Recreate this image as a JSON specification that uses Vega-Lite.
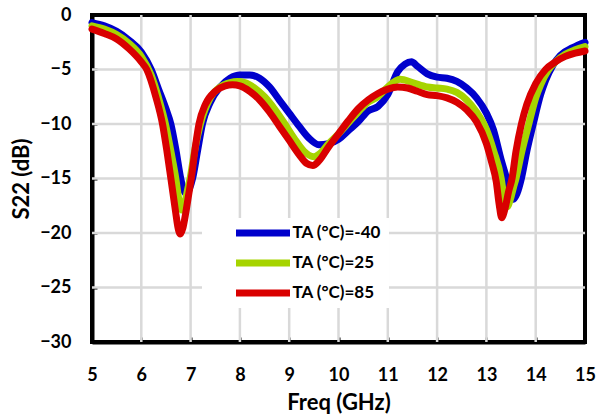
{
  "$schema": "https://vega.github.io/schema/vega-lite/v6.json",
  "width": 493,
  "height": 327,
  "autosize": {"type": "none"},
  "padding": {"left": 92, "top": 15, "right": 22, "bottom": 76},
  "background": "white",
  "config": {
    "font": "Lato",
    "view": {"stroke": "black", "strokeWidth": 4},
    "axis": {
      "grid": false,
      "domainColor": "black",
      "domainWidth": 4,
      "tickColor": "black",
      "tickWidth": 2,
      "tickSize": -5,
      "labelFlush": false,
      "labelFont": "Lato",
      "labelFontWeight": "bold",
      "labelFontSize": 18,
      "labelColor": "black",
      "titleFont": "Lato",
      "titleFontWeight": "bold",
      "titleFontSize": 22,
      "titleColor": "black"
    }
  },
  "layer": [
    {
      "data": {"values": [{"g": 6}, {"g": 7}, {"g": 8}, {"g": 9}, {"g": 10}, {"g": 11}, {"g": 12}, {"g": 13}, {"g": 14}]},
      "mark": {"type": "rule", "color": "#d9d9d9", "strokeWidth": 2.5},
      "encoding": {
        "x": {
          "field": "g",
          "type": "quantitative",
          "scale": {"domain": [5, 15], "nice": false},
          "axis": {
            "values": [5, 6, 7, 8, 9, 10, 11, 12, 13, 14, 15],
            "title": "Freq (GHz)",
            "labelPadding": 29,
            "titlePadding": 8
          }
        }
      }
    },
    {
      "data": {"values": [{"g": -25}, {"g": -20}, {"g": -15}, {"g": -10}, {"g": -5}]},
      "mark": {"type": "rule", "color": "#d9d9d9", "strokeWidth": 2.5},
      "encoding": {
        "y": {
          "field": "g",
          "type": "quantitative",
          "scale": {"domain": [-30, 0], "nice": false},
          "axis": {
            "values": [-30, -25, -20, -15, -10, -5, 0],
            "title": "S22 (dB)",
            "labelPadding": 26,
            "titlePadding": 6
          }
        }
      }
    },
    {
      "data": {
        "values": [
          {"f": 5.0, "s22": -0.7, "ta": "TA (°C)=-40"},
          {"f": 5.25, "s22": -1.0, "ta": "TA (°C)=-40"},
          {"f": 5.5, "s22": -1.5, "ta": "TA (°C)=-40"},
          {"f": 5.75, "s22": -2.3, "ta": "TA (°C)=-40"},
          {"f": 6.0, "s22": -3.4, "ta": "TA (°C)=-40"},
          {"f": 6.2, "s22": -5.0, "ta": "TA (°C)=-40"},
          {"f": 6.35, "s22": -6.8, "ta": "TA (°C)=-40"},
          {"f": 6.5, "s22": -8.6, "ta": "TA (°C)=-40"},
          {"f": 6.6, "s22": -10.0, "ta": "TA (°C)=-40"},
          {"f": 6.7, "s22": -12.3, "ta": "TA (°C)=-40"},
          {"f": 6.8, "s22": -15.0, "ta": "TA (°C)=-40"},
          {"f": 6.86, "s22": -16.1, "ta": "TA (°C)=-40"},
          {"f": 6.92, "s22": -16.4, "ta": "TA (°C)=-40"},
          {"f": 6.98, "s22": -15.9, "ta": "TA (°C)=-40"},
          {"f": 7.04, "s22": -15.0, "ta": "TA (°C)=-40"},
          {"f": 7.14, "s22": -12.5, "ta": "TA (°C)=-40"},
          {"f": 7.24, "s22": -10.0, "ta": "TA (°C)=-40"},
          {"f": 7.4, "s22": -8.0, "ta": "TA (°C)=-40"},
          {"f": 7.6, "s22": -6.6, "ta": "TA (°C)=-40"},
          {"f": 7.8, "s22": -5.8, "ta": "TA (°C)=-40"},
          {"f": 8.0, "s22": -5.5, "ta": "TA (°C)=-40"},
          {"f": 8.2, "s22": -5.5, "ta": "TA (°C)=-40"},
          {"f": 8.4, "s22": -5.8, "ta": "TA (°C)=-40"},
          {"f": 8.6, "s22": -6.6, "ta": "TA (°C)=-40"},
          {"f": 8.8, "s22": -7.8, "ta": "TA (°C)=-40"},
          {"f": 9.0, "s22": -9.0, "ta": "TA (°C)=-40"},
          {"f": 9.2, "s22": -10.2, "ta": "TA (°C)=-40"},
          {"f": 9.4, "s22": -11.3, "ta": "TA (°C)=-40"},
          {"f": 9.6, "s22": -11.9, "ta": "TA (°C)=-40"},
          {"f": 9.8, "s22": -11.8, "ta": "TA (°C)=-40"},
          {"f": 10.0, "s22": -11.4, "ta": "TA (°C)=-40"},
          {"f": 10.2, "s22": -10.6, "ta": "TA (°C)=-40"},
          {"f": 10.4, "s22": -9.8, "ta": "TA (°C)=-40"},
          {"f": 10.6, "s22": -8.8, "ta": "TA (°C)=-40"},
          {"f": 10.8, "s22": -8.4, "ta": "TA (°C)=-40"},
          {"f": 11.0, "s22": -7.3, "ta": "TA (°C)=-40"},
          {"f": 11.2, "s22": -5.2, "ta": "TA (°C)=-40"},
          {"f": 11.35, "s22": -4.5, "ta": "TA (°C)=-40"},
          {"f": 11.48, "s22": -4.3, "ta": "TA (°C)=-40"},
          {"f": 11.6, "s22": -4.7, "ta": "TA (°C)=-40"},
          {"f": 11.8, "s22": -5.4, "ta": "TA (°C)=-40"},
          {"f": 12.0, "s22": -5.7, "ta": "TA (°C)=-40"},
          {"f": 12.2, "s22": -5.8, "ta": "TA (°C)=-40"},
          {"f": 12.4, "s22": -6.1, "ta": "TA (°C)=-40"},
          {"f": 12.6, "s22": -6.7, "ta": "TA (°C)=-40"},
          {"f": 12.8, "s22": -7.6, "ta": "TA (°C)=-40"},
          {"f": 13.0, "s22": -9.0, "ta": "TA (°C)=-40"},
          {"f": 13.14, "s22": -10.5, "ta": "TA (°C)=-40"},
          {"f": 13.3, "s22": -13.3, "ta": "TA (°C)=-40"},
          {"f": 13.41, "s22": -15.0, "ta": "TA (°C)=-40"},
          {"f": 13.48, "s22": -16.3, "ta": "TA (°C)=-40"},
          {"f": 13.55, "s22": -16.9, "ta": "TA (°C)=-40"},
          {"f": 13.62, "s22": -16.4, "ta": "TA (°C)=-40"},
          {"f": 13.71, "s22": -15.0, "ta": "TA (°C)=-40"},
          {"f": 13.82, "s22": -12.5, "ta": "TA (°C)=-40"},
          {"f": 13.95, "s22": -10.0, "ta": "TA (°C)=-40"},
          {"f": 14.1, "s22": -7.3, "ta": "TA (°C)=-40"},
          {"f": 14.2, "s22": -6.0, "ta": "TA (°C)=-40"},
          {"f": 14.35, "s22": -4.6, "ta": "TA (°C)=-40"},
          {"f": 14.5, "s22": -3.7, "ta": "TA (°C)=-40"},
          {"f": 14.75, "s22": -3.0, "ta": "TA (°C)=-40"},
          {"f": 15.0, "s22": -2.5, "ta": "TA (°C)=-40"},

          {"f": 5.0, "s22": -1.0, "ta": "TA (°C)=25"},
          {"f": 5.25, "s22": -1.3, "ta": "TA (°C)=25"},
          {"f": 5.5, "s22": -1.8, "ta": "TA (°C)=25"},
          {"f": 5.75, "s22": -2.6, "ta": "TA (°C)=25"},
          {"f": 6.0, "s22": -3.8, "ta": "TA (°C)=25"},
          {"f": 6.2, "s22": -5.5, "ta": "TA (°C)=25"},
          {"f": 6.35, "s22": -7.6, "ta": "TA (°C)=25"},
          {"f": 6.5, "s22": -10.2, "ta": "TA (°C)=25"},
          {"f": 6.6, "s22": -12.5, "ta": "TA (°C)=25"},
          {"f": 6.7, "s22": -15.0, "ta": "TA (°C)=25"},
          {"f": 6.76, "s22": -16.9, "ta": "TA (°C)=25"},
          {"f": 6.82, "s22": -17.9, "ta": "TA (°C)=25"},
          {"f": 6.88, "s22": -17.3, "ta": "TA (°C)=25"},
          {"f": 6.94, "s22": -16.0, "ta": "TA (°C)=25"},
          {"f": 6.99, "s22": -15.0, "ta": "TA (°C)=25"},
          {"f": 7.08, "s22": -12.5, "ta": "TA (°C)=25"},
          {"f": 7.2, "s22": -10.0, "ta": "TA (°C)=25"},
          {"f": 7.4, "s22": -7.6, "ta": "TA (°C)=25"},
          {"f": 7.6, "s22": -6.6, "ta": "TA (°C)=25"},
          {"f": 7.8, "s22": -6.2, "ta": "TA (°C)=25"},
          {"f": 7.95, "s22": -6.1, "ta": "TA (°C)=25"},
          {"f": 8.1, "s22": -6.2, "ta": "TA (°C)=25"},
          {"f": 8.3, "s22": -6.7, "ta": "TA (°C)=25"},
          {"f": 8.5, "s22": -7.5, "ta": "TA (°C)=25"},
          {"f": 8.7, "s22": -8.6, "ta": "TA (°C)=25"},
          {"f": 8.9, "s22": -9.9, "ta": "TA (°C)=25"},
          {"f": 9.1, "s22": -11.3, "ta": "TA (°C)=25"},
          {"f": 9.3, "s22": -12.5, "ta": "TA (°C)=25"},
          {"f": 9.5, "s22": -13.0, "ta": "TA (°C)=25"},
          {"f": 9.65, "s22": -12.6, "ta": "TA (°C)=25"},
          {"f": 9.8, "s22": -11.8, "ta": "TA (°C)=25"},
          {"f": 10.0, "s22": -10.9, "ta": "TA (°C)=25"},
          {"f": 10.2, "s22": -9.9, "ta": "TA (°C)=25"},
          {"f": 10.4, "s22": -8.9, "ta": "TA (°C)=25"},
          {"f": 10.6, "s22": -8.0, "ta": "TA (°C)=25"},
          {"f": 10.8, "s22": -7.5, "ta": "TA (°C)=25"},
          {"f": 11.0, "s22": -6.6, "ta": "TA (°C)=25"},
          {"f": 11.25, "s22": -5.9, "ta": "TA (°C)=25"},
          {"f": 11.5, "s22": -6.2, "ta": "TA (°C)=25"},
          {"f": 11.8, "s22": -6.6, "ta": "TA (°C)=25"},
          {"f": 12.0, "s22": -6.7, "ta": "TA (°C)=25"},
          {"f": 12.2, "s22": -6.8, "ta": "TA (°C)=25"},
          {"f": 12.4, "s22": -7.1, "ta": "TA (°C)=25"},
          {"f": 12.6, "s22": -7.8, "ta": "TA (°C)=25"},
          {"f": 12.8, "s22": -8.9, "ta": "TA (°C)=25"},
          {"f": 13.0, "s22": -10.5, "ta": "TA (°C)=25"},
          {"f": 13.15, "s22": -12.5, "ta": "TA (°C)=25"},
          {"f": 13.3, "s22": -15.0, "ta": "TA (°C)=25"},
          {"f": 13.36, "s22": -16.8, "ta": "TA (°C)=25"},
          {"f": 13.42, "s22": -17.6, "ta": "TA (°C)=25"},
          {"f": 13.48, "s22": -17.0, "ta": "TA (°C)=25"},
          {"f": 13.55, "s22": -15.8, "ta": "TA (°C)=25"},
          {"f": 13.6, "s22": -15.0, "ta": "TA (°C)=25"},
          {"f": 13.72, "s22": -12.5, "ta": "TA (°C)=25"},
          {"f": 13.86, "s22": -10.0, "ta": "TA (°C)=25"},
          {"f": 14.0, "s22": -7.6, "ta": "TA (°C)=25"},
          {"f": 14.1, "s22": -6.4, "ta": "TA (°C)=25"},
          {"f": 14.25, "s22": -5.1, "ta": "TA (°C)=25"},
          {"f": 14.4, "s22": -4.3, "ta": "TA (°C)=25"},
          {"f": 14.6, "s22": -3.6, "ta": "TA (°C)=25"},
          {"f": 14.8, "s22": -3.2, "ta": "TA (°C)=25"},
          {"f": 15.0, "s22": -2.9, "ta": "TA (°C)=25"},

          {"f": 5.0, "s22": -1.3, "ta": "TA (°C)=85"},
          {"f": 5.25, "s22": -1.7, "ta": "TA (°C)=85"},
          {"f": 5.5, "s22": -2.2, "ta": "TA (°C)=85"},
          {"f": 5.75, "s22": -3.1, "ta": "TA (°C)=85"},
          {"f": 6.0, "s22": -4.3, "ta": "TA (°C)=85"},
          {"f": 6.11, "s22": -5.0, "ta": "TA (°C)=85"},
          {"f": 6.3, "s22": -7.6, "ta": "TA (°C)=85"},
          {"f": 6.43, "s22": -10.0, "ta": "TA (°C)=85"},
          {"f": 6.52, "s22": -12.5, "ta": "TA (°C)=85"},
          {"f": 6.6, "s22": -15.0, "ta": "TA (°C)=85"},
          {"f": 6.7, "s22": -18.2, "ta": "TA (°C)=85"},
          {"f": 6.74, "s22": -19.4, "ta": "TA (°C)=85"},
          {"f": 6.79, "s22": -20.1, "ta": "TA (°C)=85"},
          {"f": 6.84, "s22": -19.6, "ta": "TA (°C)=85"},
          {"f": 6.9, "s22": -18.2, "ta": "TA (°C)=85"},
          {"f": 6.96, "s22": -16.5, "ta": "TA (°C)=85"},
          {"f": 7.02, "s22": -14.8, "ta": "TA (°C)=85"},
          {"f": 7.1, "s22": -12.0, "ta": "TA (°C)=85"},
          {"f": 7.17, "s22": -10.0, "ta": "TA (°C)=85"},
          {"f": 7.3, "s22": -8.2, "ta": "TA (°C)=85"},
          {"f": 7.5, "s22": -7.0, "ta": "TA (°C)=85"},
          {"f": 7.7, "s22": -6.5, "ta": "TA (°C)=85"},
          {"f": 7.85, "s22": -6.4, "ta": "TA (°C)=85"},
          {"f": 8.0, "s22": -6.5, "ta": "TA (°C)=85"},
          {"f": 8.2, "s22": -7.0, "ta": "TA (°C)=85"},
          {"f": 8.4, "s22": -7.8, "ta": "TA (°C)=85"},
          {"f": 8.6, "s22": -8.9, "ta": "TA (°C)=85"},
          {"f": 8.8, "s22": -10.2, "ta": "TA (°C)=85"},
          {"f": 9.0, "s22": -11.5, "ta": "TA (°C)=85"},
          {"f": 9.2, "s22": -12.8, "ta": "TA (°C)=85"},
          {"f": 9.35, "s22": -13.6, "ta": "TA (°C)=85"},
          {"f": 9.48, "s22": -13.8, "ta": "TA (°C)=85"},
          {"f": 9.6, "s22": -13.4, "ta": "TA (°C)=85"},
          {"f": 9.8, "s22": -12.1, "ta": "TA (°C)=85"},
          {"f": 10.0, "s22": -10.9, "ta": "TA (°C)=85"},
          {"f": 10.2, "s22": -9.7, "ta": "TA (°C)=85"},
          {"f": 10.4, "s22": -8.6, "ta": "TA (°C)=85"},
          {"f": 10.6, "s22": -7.8, "ta": "TA (°C)=85"},
          {"f": 10.8, "s22": -7.2, "ta": "TA (°C)=85"},
          {"f": 11.0, "s22": -6.8, "ta": "TA (°C)=85"},
          {"f": 11.2, "s22": -6.6, "ta": "TA (°C)=85"},
          {"f": 11.4, "s22": -6.7, "ta": "TA (°C)=85"},
          {"f": 11.6, "s22": -7.0, "ta": "TA (°C)=85"},
          {"f": 11.8, "s22": -7.3, "ta": "TA (°C)=85"},
          {"f": 12.0, "s22": -7.4, "ta": "TA (°C)=85"},
          {"f": 12.2, "s22": -7.6, "ta": "TA (°C)=85"},
          {"f": 12.4, "s22": -8.0, "ta": "TA (°C)=85"},
          {"f": 12.6, "s22": -8.7, "ta": "TA (°C)=85"},
          {"f": 12.8, "s22": -9.8, "ta": "TA (°C)=85"},
          {"f": 13.0, "s22": -11.8, "ta": "TA (°C)=85"},
          {"f": 13.1, "s22": -13.4, "ta": "TA (°C)=85"},
          {"f": 13.2, "s22": -15.3, "ta": "TA (°C)=85"},
          {"f": 13.26, "s22": -17.4, "ta": "TA (°C)=85"},
          {"f": 13.31, "s22": -18.6, "ta": "TA (°C)=85"},
          {"f": 13.37, "s22": -17.9, "ta": "TA (°C)=85"},
          {"f": 13.45, "s22": -16.2, "ta": "TA (°C)=85"},
          {"f": 13.52, "s22": -15.0, "ta": "TA (°C)=85"},
          {"f": 13.6, "s22": -12.5, "ta": "TA (°C)=85"},
          {"f": 13.71, "s22": -10.0, "ta": "TA (°C)=85"},
          {"f": 13.82, "s22": -8.2, "ta": "TA (°C)=85"},
          {"f": 14.0, "s22": -6.3, "ta": "TA (°C)=85"},
          {"f": 14.2, "s22": -5.0, "ta": "TA (°C)=85"},
          {"f": 14.4, "s22": -4.3, "ta": "TA (°C)=85"},
          {"f": 14.6, "s22": -3.8, "ta": "TA (°C)=85"},
          {"f": 14.8, "s22": -3.5, "ta": "TA (°C)=85"},
          {"f": 15.0, "s22": -3.3, "ta": "TA (°C)=85"}
        ]
      },
      "mark": {
        "type": "line",
        "interpolate": "monotone",
        "strokeWidth": 7,
        "strokeCap": "round",
        "strokeJoin": "round"
      },
      "encoding": {
        "x": {
          "field": "f",
          "type": "quantitative",
          "scale": {"domain": [5, 15], "nice": false},
          "axis": {
            "values": [5, 6, 7, 8, 9, 10, 11, 12, 13, 14, 15],
            "title": "Freq (GHz)",
            "labelPadding": 29,
            "titlePadding": 8
          }
        },
        "y": {
          "field": "s22",
          "type": "quantitative",
          "scale": {"domain": [-30, 0], "nice": false},
          "axis": {
            "values": [-30, -25, -20, -15, -10, -5, 0],
            "title": "S22 (dB)",
            "labelPadding": 26,
            "titlePadding": 6
          }
        },
        "color": {
          "field": "ta",
          "type": "nominal",
          "sort": ["TA (°C)=-40", "TA (°C)=25", "TA (°C)=85"],
          "scale": {
            "domain": ["TA (°C)=-40", "TA (°C)=25", "TA (°C)=85"],
            "range": ["#0000CC", "#A6D400", "#D90000"]
          },
          "legend": {
            "title": null,
            "orient": "none",
            "legendX": 110,
            "legendY": 203,
            "fillColor": "white",
            "padding": 7,
            "clipHeight": 16,
            "rowPadding": 13,
            "symbolOffset": 23.5,
            "symbolType": "stroke",
            "symbolSize": 2916,
            "symbolStrokeWidth": 7,
            "labelOffset": -1,
            "labelFont": "Lato",
            "labelFontWeight": "bold",
            "labelFontSize": 17,
            "labelColor": "black"
          }
        }
      }
    }
  ]
}
